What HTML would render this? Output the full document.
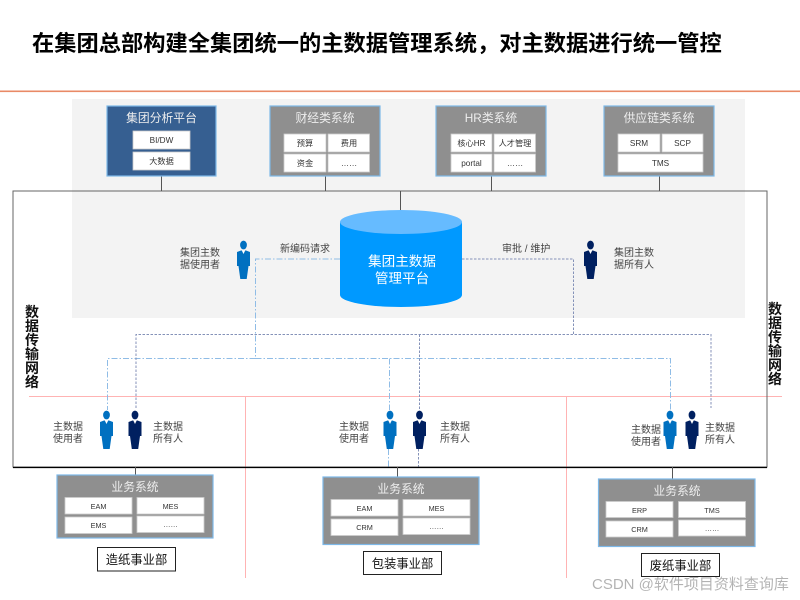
<!DOCTYPE html>
<html><head><meta charset="utf-8"><style>
html,body{margin:0;padding:0;background:#fff}
svg{display:block}
text{font-family:"Liberation Sans","Noto Sans CJK SC",sans-serif}
.t{fill:#333;font-size:8.2px;text-anchor:middle}
.u{fill:#333;font-size:7.3px;text-anchor:middle}
.l{fill:#444;font-size:10px}
.h{fill:#eee;font-size:11.8px;text-anchor:middle}
.b{fill:#fff;stroke:#ccc;stroke-width:.8}
.o{fill:#8f8f8f;stroke:#7db8e8;stroke-width:1.2}
.c{stroke:#555;stroke-width:1;fill:none}
.lb{stroke:#8fbce6;stroke-width:1;fill:none;stroke-dasharray:6 2 1.5 2}
.db{stroke:#8492b8;stroke-width:1;fill:none;stroke-dasharray:2.5 1.5}
.r{stroke:#ffb3b3;stroke-width:1;fill:none}
.s{fill:#111;font-size:14px;font-weight:bold;text-anchor:middle}
.d{fill:#111;font-size:12.3px;text-anchor:middle}
</style></head><body>
<svg width="800" height="600" viewBox="0 0 800 600" xmlns="http://www.w3.org/2000/svg">
<defs>
<g id="p">
<ellipse cx="0" cy="5" rx="3.4" ry="4.4"/>
<path d="M-6.5 12 L-2.5 10.500 L2.500 10.500 L6.500 12 L6.500 26 L5 26 L3.200 39 L-3.200 39 L-5 26 L-6.500 26 Z"/>
<path d="M-1.700 10.500 L0 14 L1.700 10.500 Z" fill="#fff"/>
</g>
</defs>
<rect width="800" height="600" fill="#fff"/>
<text x="32" y="51" style="font-size:22.25px;font-weight:bold" fill="#000">在集团总部构建全集团统一的主数据管理系统，对主数据进行统一管控</text>
<rect x="0" y="90.500" width="800" height="1.600" fill="#e98a66"/>
<rect x="72" y="99" width="673" height="219" fill="#f3f3f3"/>

<!-- red dividers -->
<path class="r" d="M29 396.500H782M245.500 396.500V578M566.500 396.500V578"/>

<!-- dashed -->
<path class="lb" d="M340 259H255.500V358.500H107.500V410M255.500 358.500H670.500V410M389.500 358.500V410M388.500 449V467"/>
<path class="db" d="M462 259H573.500V334.500M136 408V334.500H711V408M419.500 334.500V410M418.500 449V467"/>

<!-- frame -->
<rect x="13" y="191" width="754" height="276" fill="none" stroke="#666" stroke-width="1"/>
<path d="M13 467.500H767" stroke="#000" stroke-width="1.200"/>

<!-- connectors -->
<path class="c" d="M161.500 176V191M325.500 176V191M491.500 176V191M659.500 176V191M400.500 191V210M135.500 467V475M397.500 467V477M672.500 467V479"/>

<!-- top boxes -->
<rect x="107" y="106" width="109" height="70" fill="#365f91" stroke="#7db8e8" stroke-width="1.200"/>
<text class="h" x="161.500" y="122">集团分析平台</text>
<rect class="b" x="133" y="131" width="57" height="18"/><text class="t" x="161.500" y="143">BI/DW</text>
<rect class="b" x="133" y="152" width="57" height="18"/><text class="t" x="161.500" y="164">大数据</text>

<rect class="o" x="270" y="106" width="110" height="70"/>
<text class="h" x="325" y="122">财经类系统</text>
<rect class="b" x="284" y="134" width="42" height="18"/><text class="t" x="305" y="146">预算</text>
<rect class="b" x="328" y="134" width="41.500" height="18"/><text class="t" x="349" y="146">费用</text>
<rect class="b" x="284" y="154" width="42" height="18"/><text class="t" x="305" y="166">资金</text>
<rect class="b" x="328" y="154" width="41.500" height="18"/><text class="t" x="349" y="166">……</text>

<rect class="o" x="436" y="106" width="110" height="70"/>
<text class="h" x="491" y="122">HR类系统</text>
<rect class="b" x="451" y="134" width="41" height="18"/><text class="t" x="471.500" y="146">核心HR</text>
<rect class="b" x="494" y="134" width="41.500" height="18"/><text class="t" x="515" y="146">人才管理</text>
<rect class="b" x="451" y="154" width="41" height="18"/><text class="t" x="471.500" y="166">portal</text>
<rect class="b" x="494" y="154" width="41.500" height="18"/><text class="t" x="515" y="166">……</text>

<rect class="o" x="604" y="106" width="110" height="70"/>
<text class="h" x="659" y="122">供应链类系统</text>
<rect class="b" x="618" y="134" width="42" height="18"/><text class="t" x="639" y="146">SRM</text>
<rect class="b" x="662" y="134" width="41" height="18"/><text class="t" x="682.500" y="146">SCP</text>
<rect class="b" x="618" y="154" width="85" height="18"/><text class="t" x="660.500" y="166">TMS</text>

<!-- cylinder -->
<path d="M340 222V295A61 12 0 0 0 462 295V222Z" fill="#0099ff"/>
<ellipse cx="401" cy="222" rx="61" ry="12" fill="#66bbff"/>
<text x="402" y="266" fill="#fff" text-anchor="middle" style="font-size:13.600px">集团主数据</text>
<text x="402" y="283" fill="#fff" text-anchor="middle" style="font-size:13.600px">管理平台</text>

<text class="l" x="180" y="256">集团主数</text><text class="l" x="180" y="268">据使用者</text>
<text class="l" x="280" y="252">新编码请求</text>
<text class="l" x="502" y="252">审批 / 维护</text>
<text class="l" x="614" y="256">集团主数</text><text class="l" x="614" y="268">据所有人</text>
<use href="#p" x="243.500" y="240" fill="#0070c0"/>
<use href="#p" x="590.500" y="240" fill="#002060"/>

<!-- side text -->
<text class="s" x="32" y="317">数</text><text class="s" x="32" y="331">据</text><text class="s" x="32" y="345">传</text><text class="s" x="32" y="359">输</text><text class="s" x="32" y="373">网</text><text class="s" x="32" y="387">络</text>
<text class="s" x="775" y="314">数</text><text class="s" x="775" y="328">据</text><text class="s" x="775" y="342">传</text><text class="s" x="775" y="356">输</text><text class="s" x="775" y="370">网</text><text class="s" x="775" y="384">络</text>

<!-- persons bottom -->
<use href="#p" x="106.500" y="410" fill="#0070c0"/>
<use href="#p" x="135" y="410" fill="#002060"/>
<use href="#p" x="390" y="410" fill="#0070c0"/>
<use href="#p" x="419.500" y="410" fill="#002060"/>
<use href="#p" x="670" y="410" fill="#0070c0"/>
<use href="#p" x="692" y="410" fill="#002060"/>
<text class="l" x="53" y="430">主数据</text><text class="l" x="53" y="442">使用者</text>
<text class="l" x="153" y="430">主数据</text><text class="l" x="153" y="442">所有人</text>
<text class="l" x="339" y="430">主数据</text><text class="l" x="339" y="442">使用者</text>
<text class="l" x="440" y="430">主数据</text><text class="l" x="440" y="442">所有人</text>
<text class="l" x="631" y="433">主数据</text><text class="l" x="631" y="445">使用者</text>
<text class="l" x="705" y="431">主数据</text><text class="l" x="705" y="443">所有人</text>

<!-- business 1 -->
<rect class="o" x="57" y="475" width="156" height="63"/>
<text class="h" x="135" y="491">业务系统</text>
<rect class="b" x="65" y="497.500" width="67" height="16.500"/><text class="u" x="98.500" y="509">EAM</text>
<rect class="b" x="137" y="497.500" width="67" height="16.500"/><text class="u" x="170.500" y="509">MES</text>
<rect class="b" x="65" y="517" width="67" height="16.500"/><text class="u" x="98.500" y="528">EMS</text>
<rect class="b" x="137" y="516" width="67" height="16.500"/><text class="u" x="170.500" y="527">……</text>
<rect x="97.500" y="547.500" width="78" height="23.500" fill="#fff" stroke="#222" stroke-width="1"/>
<text class="d" x="136.500" y="564">造纸事业部</text>

<!-- business 2 -->
<rect class="o" x="323" y="477" width="156" height="67.500"/>
<text class="h" x="401" y="493">业务系统</text>
<rect class="b" x="331" y="499.500" width="67" height="16.500"/><text class="u" x="364.500" y="511">EAM</text>
<rect class="b" x="403" y="499.500" width="67" height="16.500"/><text class="u" x="436.500" y="511">MES</text>
<rect class="b" x="331" y="519" width="67" height="16.500"/><text class="u" x="364.500" y="530">CRM</text>
<rect class="b" x="403" y="518" width="67" height="16.500"/><text class="u" x="436.500" y="529">……</text>
<rect x="363.500" y="551.500" width="78" height="23" fill="#fff" stroke="#222" stroke-width="1"/>
<text class="d" x="402.500" y="568">包装事业部</text>

<!-- business 3 -->
<rect class="o" x="598.500" y="479" width="156.500" height="67.500"/>
<text class="h" x="677" y="495">业务系统</text>
<rect class="b" x="606" y="501.500" width="67" height="16"/><text class="u" x="639.500" y="513">ERP</text>
<rect class="b" x="678.500" y="501.500" width="67" height="16"/><text class="u" x="712" y="513">TMS</text>
<rect class="b" x="606" y="521" width="67" height="16"/><text class="u" x="639.500" y="532">CRM</text>
<rect class="b" x="678.500" y="520" width="67" height="16"/><text class="u" x="712" y="531">……</text>
<rect x="641.500" y="553.500" width="78" height="23" fill="#fff" stroke="#222" stroke-width="1"/>
<text class="d" x="680.500" y="570">废纸事业部</text>

<!-- watermark -->
<text x="592" y="589" fill="#000" fill-opacity=".3" style="font-size:15px">CSDN @软件项目资料查询库</text>
</svg>
</body></html>
